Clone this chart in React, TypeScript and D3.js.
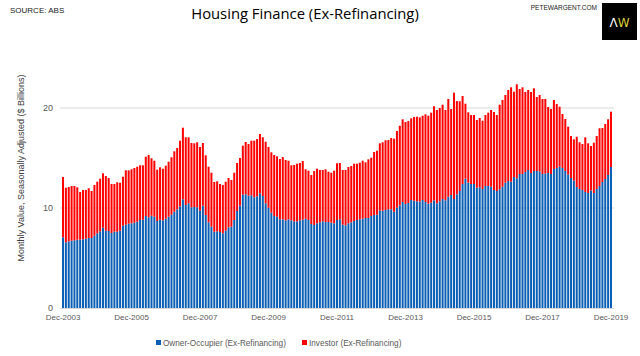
import React from "react";
import * as d3 from "d3";

// Monthly, Dec-2003 .. Dec-2019 (193 months), $ billions
const ownerOccupier: number[] = [
  7.07, 6.57, 6.67, 6.73, 6.77, 6.83, 6.83, 6.87, 6.93, 7.0, 7.0, 7.23, 7.47, 7.67, 8.03, 7.73, 7.7, 7.5, 7.63, 7.63,
  7.73, 8.23, 8.33, 8.43, 8.47, 8.53, 8.63, 8.8, 8.83, 9.2, 9.07, 9.23, 9.13, 8.7, 8.83, 8.77, 8.93, 9.13, 9.33, 9.63,
  9.87, 10.17, 10.87, 10.3, 10.47, 10.07, 10.1, 10.07, 9.73, 10.23, 9.3, 8.57, 8.13, 7.63, 7.67, 7.6, 7.47, 7.73, 8.07, 8.13,
  8.8, 9.7, 10.23, 11.33, 11.37, 11.23, 11.27, 11.07, 11.17, 11.47, 11.2, 10.47, 10.03, 9.53, 9.2, 9.13, 8.87, 8.87, 8.77, 8.87,
  8.77, 8.67, 8.67, 8.77, 8.83, 8.93, 8.8, 8.4, 8.3, 8.47, 8.57, 8.67, 8.6, 8.6, 8.53, 8.47, 8.8, 8.87, 8.33, 8.27,
  8.47, 8.57, 8.7, 8.8, 8.87, 8.93, 9.0, 9.0, 9.2, 9.3, 9.33, 9.73, 9.73, 9.8, 9.87, 9.87, 9.63, 10.03, 10.27, 10.6,
  10.4, 10.5, 10.8, 10.73, 10.67, 10.63, 10.8, 10.6, 10.43, 10.53, 10.77, 10.47, 10.67, 10.9, 10.77, 11.13, 11.3, 10.9, 11.37, 11.7,
  12.4, 12.93, 12.53, 12.4, 12.4, 12.03, 12.07, 11.9, 12.2, 12.2, 12.13, 11.8, 11.7, 11.87, 12.13, 12.53, 12.7, 12.63, 13.1, 12.97,
  13.4, 13.4, 13.6, 13.8, 13.5, 13.7, 13.7, 13.65, 13.4, 13.45, 13.5, 13.4, 13.9, 14.0, 14.15, 14.0, 13.7, 13.35, 13.0, 12.75,
  12.1, 11.9, 11.8, 11.6, 11.5, 11.75, 11.5, 11.9, 12.2, 12.6, 12.9, 13.3, 14.1,
];

const investor: number[] = [
  6.03, 5.46, 5.43, 5.47, 5.43, 5.24, 4.77, 4.93, 4.87, 4.97, 4.7, 5.07, 5.16, 5.26, 5.44, 5.47, 5.3, 4.9, 4.77, 4.94,
  4.8, 4.9, 5.44, 5.34, 5.4, 5.47, 5.5, 5.47, 5.44, 5.93, 6.23, 5.74, 5.6, 5.13, 5.24, 5.16, 5.3, 5.5, 5.74, 6.04,
  6.13, 6.56, 7.16, 6.77, 6.6, 6.43, 6.37, 6.5, 6.37, 6.27, 5.97, 5.56, 5.4, 4.97, 5.0, 4.8, 4.83, 4.9, 4.93, 4.67,
  4.73, 4.8, 4.77, 4.9, 5.23, 5.17, 5.46, 5.66, 5.73, 5.93, 5.87, 6.16, 6.07, 6.04, 6.1, 6.04, 6.03, 6.23, 6.03, 5.86,
  5.5, 5.63, 5.76, 5.73, 5.87, 4.94, 4.93, 4.9, 5.4, 5.46, 5.23, 5.13, 5.27, 5.03, 5.0, 5.26, 5.67, 5.63, 5.47, 5.53,
  5.63, 5.63, 5.73, 5.63, 5.66, 5.8, 5.57, 5.87, 5.83, 6.3, 6.4, 6.74, 6.84, 6.97, 6.93, 7.13, 7.3, 7.67, 7.96, 8.27,
  8.2, 8.2, 8.17, 8.37, 8.46, 8.44, 8.43, 8.77, 8.8, 9.0, 9.4, 9.33, 9.33, 9.43, 9.03, 9.77, 8.6, 10.63, 9.33, 8.97,
  8.8, 7.5, 7.04, 6.9, 6.9, 6.77, 6.93, 6.83, 7.1, 7.33, 7.67, 7.8, 7.6, 8.46, 8.67, 8.77, 9.1, 9.44, 8.53, 9.4,
  8.5, 8.67, 8.0, 8.0, 8.1, 8.27, 7.4, 7.65, 7.5, 7.45, 6.6, 6.5, 6.9, 6.4, 5.98, 5.4, 5.2, 4.78, 4.2, 4.12,
  5.03, 4.67, 4.6, 5.47, 4.97, 4.45, 5.03, 5.3, 5.77, 5.4, 5.5, 5.57, 5.53,
];

const monthNames = ["Jan", "Feb", "Mar", "Apr", "May", "Jun", "Jul", "Aug", "Sep", "Oct", "Nov", "Dec"];
const months: string[] = ownerOccupier.map((_, i) => {
  const m = (11 + i) % 12;
  const y = 2003 + Math.floor((11 + i) / 12);
  return `${monthNames[m]}-${y}`;
});

const tickLabels = ["Dec-2003", "Dec-2005", "Dec-2007", "Dec-2009", "Dec-2011", "Dec-2013", "Dec-2015", "Dec-2017", "Dec-2019"];
const yTicks = [0, 10, 20];
const seriesNames = ["Owner-Occupier (Ex-Refinancing)", "Investor (Ex-Refinancing)"];
const colors = ["#0a5fb4", "#ff0000"];

const W = 640;
const H = 356;

export default function App() {
  const rows = months.map((m, i) => ({ month: m, owner: ownerOccupier[i], investor: investor[i] }));
  const x = d3.scaleBand<string>().domain(months).range([61.6, 612.4]).paddingInner(0.3).paddingOuter(0.15);
  const y = d3.scaleLinear().domain([0, 25]).range([308, 58]);
  const stack = d3.stack<any>().keys(["owner", "investor"]);
  const layers = stack(rows);
  const font = "'Liberation Sans', Arial, sans-serif";

  return (
    <svg width={W} height={H} style={{ position: "absolute", left: 0, top: 0, background: "#fff" }} fontFamily={font}>
      <rect x={0} y={0} width={W} height={H} fill="#fff" />
      {yTicks.filter((t) => t > 0).map((t) => (
        <line key={t} x1={60} x2={614} y1={y(t)} y2={y(t)} stroke="#d9d9d9" strokeWidth={1} />
      ))}
      {layers.map((layer, li) => (
        <g key={li} fill={colors[li]}>
          {layer.map((d, i) => (
            <rect
              key={i}
              x={x(months[i])}
              width={x.bandwidth()}
              y={y(d[1])}
              height={y(d[0]) - y(d[1])}
            />
          ))}
        </g>
      ))}
      <line x1={60} x2={614} y1={y(0) + 0.5} y2={y(0) + 0.5} stroke="#d9d9d9" />
      {yTicks.map((t) => (
        <text key={t} x={53} y={y(t) + 3} textAnchor="end" fontSize={9} fill="#595959">
          {t}
        </text>
      ))}
      {tickLabels.map((lab) => (
        <text
          key={lab}
          x={(x(lab) ?? 0) + x.bandwidth() / 2}
          y={320}
          textAnchor="middle"
          fontSize={8}
          fill="#595959"
        >
          {lab}
        </text>
      ))}
      <text transform={`translate(24,168) rotate(-90)`} textAnchor="middle" fontSize={9} fill="#404040">
        Monthly Value, Seasonally Adjusted ($ Billions)
      </text>
      <text x={305} y={19} textAnchor="middle" fontSize={14.8} fill="#000" fontFamily="'Open Sans', sans-serif">
        Housing Finance (Ex-Refinancing)
      </text>
      <text x={10} y={13} fontSize={8} fill="#222">SOURCE: ABS</text>
      <text x={597} y={10} textAnchor="end" fontSize={6.5} fill="#222">PETEWARGENT.COM</text>
      <rect x={602} y={3} width={35} height={37} fill="#000" />
      <text x={619.5} y={26.5} textAnchor="middle" fontSize={12} fontFamily="'DejaVu Sans', sans-serif">
        <tspan fill="#ffffff">Λ</tspan>
        <tspan fill="#d8cf3a">W</tspan>
      </text>
      {seriesNames.map((name, i) => {
        const lx = i === 0 ? 156 : 302;
        return (
          <g key={name}>
            <rect x={lx} y={340} width={5} height={5} fill={colors[i]} />
            <text x={lx + 7} y={345.5} fontSize={8.2} fill="#595959">
              {name}
            </text>
          </g>
        );
      })}
    </svg>
  );
}
